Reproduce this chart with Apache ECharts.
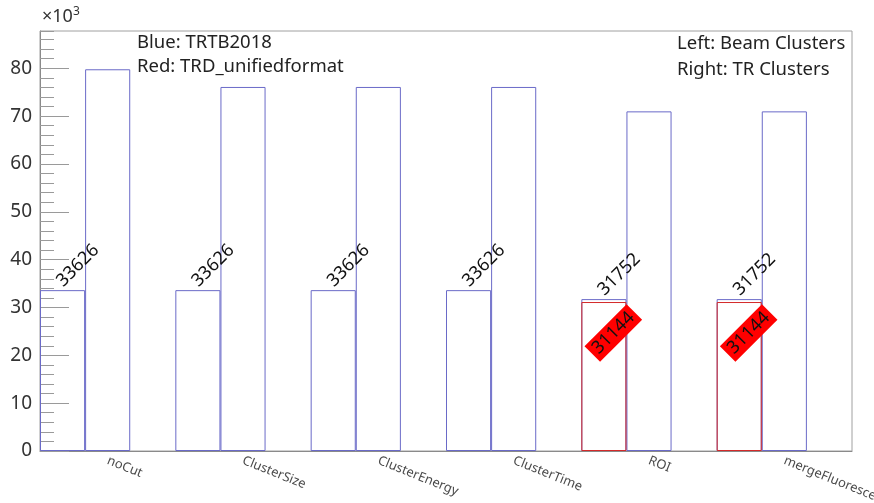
<!DOCTYPE html>
<html>
<head>
<meta charset="utf-8">
<script src="https://cdn.jsdelivr.net/npm/echarts@6/dist/echarts.min.js"></script>
<style>
    html, body {margin: 0; background: #fff;}
    #main {width: 874px; height: 503px;}
</style>
</head>
<body>
<div id="main"></div>
<script>
// one group of 3 bins per cut: beam clusters, TR clusters, empty
const cuts = ['noCut', 'ClusterSize', 'ClusterEnergy', 'ClusterTime', 'ROI', 'mergeFluorescence'];
const beamBlue = [33626, 33626, 33626, 33626, 31752, 31752];
const trBlue = [79800, 76100, 76100, 76100, 71000, 71000];
const beamRed = [null, null, null, null, 31144, 31144];
const yMax = 87800;

const blue = '#6a6ac8';
const red = '#d42a2a';

const binNames = [], beamBins = [], trBins = [], redBins = [];
cuts.forEach((c, i) => {
    binNames.push('', c, '');
    beamBins.push(beamBlue[i], '-', '-');
    trBins.push('-', trBlue[i], '-');
    redBins.push(beamRed[i] == null ? '-' : beamRed[i], '-', '-');
});

const chart = echarts.init(document.getElementById('main'));

const outline = color => ({color: 'rgba(0,0,0,0)', borderColor: color, borderWidth: 1});

const option = {
    animation: false,
    grid: {left: 40, right: 22, top: 31, bottom: 52, outerBoundsMode: 'none',
        show: true, borderColor: '#a0a0a0', borderWidth: 1},
    xAxis: {
        type: 'category',
        data: binNames,
        axisLine: {lineStyle: {color: '#8a8a8a'}},
        axisTick: {show: false},
        axisLabel: {interval: 0, rotate: -22, margin: 9, fontSize: 13,
            fontFamily: 'Noto Sans', color: '#4a4a4a'}
    },
    yAxis: [{
        type: 'value',
        min: 0, max: yMax, interval: 10000,
        axisLine: {show: true, lineStyle: {color: '#8a8a8a'}},
        axisTick: {show: true, inside: true, length: 29, lineStyle: {color: '#9a9a9a'}},
        splitLine: {show: false},
        axisLabel: {showMaxLabel: false, fontSize: 19, fontFamily: 'Noto Sans', color: '#333', margin: 8,
            formatter: v => (v % 10000 === 0 ? String(v / 1000) : '')}
    }, {
        type: 'value',
        min: 0, max: yMax, interval: 2000,
        position: 'left',
        axisLine: {show: false},
        axisTick: {show: true, inside: true, length: 14, lineStyle: {color: '#9a9a9a'}},
        splitLine: {show: false},
        axisLabel: {show: false}
    }],
    graphic: [
        {type: 'text', left: 42, top: 6, style: {text: '×10{s|3}', fontSize: 18, fontFamily: 'Noto Sans', fill: '#333',
            rich: {s: {fontSize: 12, fontFamily: 'Noto Sans', fill: '#333', padding: [0, 0, 9, 0]}}}},
        {type: 'text', left: 137, top: 33, style: {text: 'Blue: TRTB2018', fontSize: 18.5, fontFamily: 'Noto Sans', fill: '#222'}},
        {type: 'text', left: 137, top: 57, style: {text: 'Red: TRD_unifiedformat', fontSize: 18.5, fontFamily: 'Noto Sans', fill: '#222'}},
        {type: 'text', left: 677, top: 34, style: {text: 'Left: Beam Clusters', fontSize: 18.5, fontFamily: 'Noto Sans', fill: '#222'}},
        {type: 'text', left: 677, top: 60, style: {text: 'Right: TR Clusters', fontSize: 18.5, fontFamily: 'Noto Sans', fill: '#222'}}
    ],
    series: [
        {
            name: 'TRTB2018 TR', type: 'bar', data: trBins,
            barWidth: '100%', barGap: '-100%', silent: true,
            itemStyle: outline(blue)
        },
        {
            name: 'TRTB2018 beam', type: 'bar', data: beamBins,
            barWidth: '100%', barGap: '-100%', silent: true,
            itemStyle: outline(blue),
            label: {show: true, position: [26, 0], rotate: 45, align: 'left', verticalAlign: 'bottom',
                fontSize: 18, lineHeight: 18, fontFamily: 'Noto Sans', color: '#111'}
        },
        {
            name: 'TRD_unifiedformat beam', type: 'bar', data: redBins,
            barWidth: '100%', barGap: '-100%', silent: true,
            itemStyle: outline(red),
            label: {show: true, position: [32, 31], rotate: 45, align: 'center', verticalAlign: 'middle',
                fontSize: 18, lineHeight: 18, fontFamily: 'Noto Sans', color: '#111',
                backgroundColor: '#ff0000', padding: [2, 4]}
        }
    ]
};
chart.setOption(option);
</script>
</body>
</html>
